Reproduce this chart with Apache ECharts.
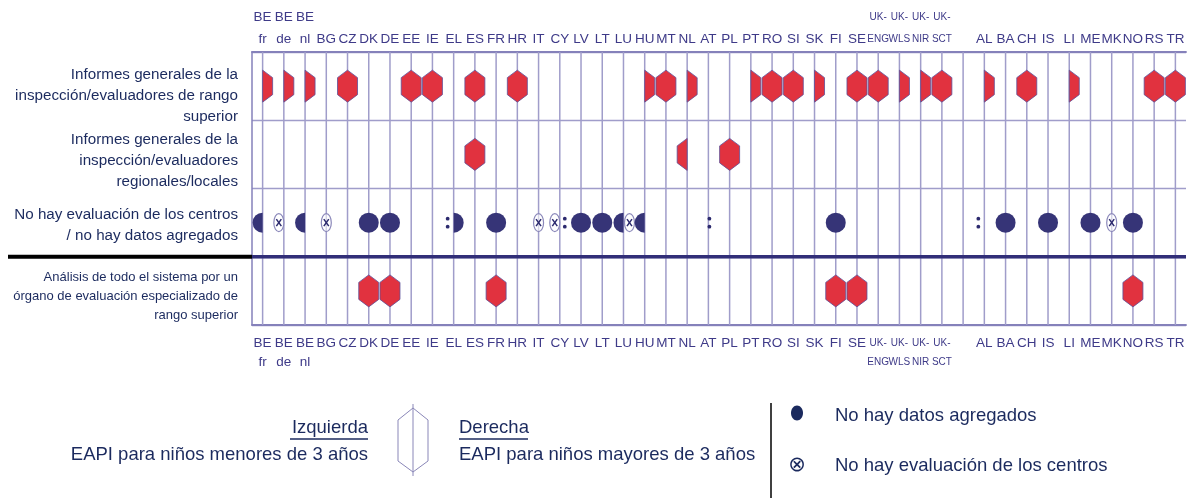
<!DOCTYPE html>
<html>
<head>
<meta charset="utf-8">
<script src="https://cdn.jsdelivr.net/npm/echarts@6/dist/echarts.min.js"></script>
<style>html,body{margin:0;padding:0;background:#fff;}#c{width:1192px;height:498px;}</style>
</head>
<body>
<div id="c"></div>
<script>
// ---- data ----
const categories = ['BE\nfr','BE\nde','BE\nnl','BG','CZ','DK','DE','EE','IE','EL','ES','FR','HR','IT','CY','LV','LT','LU','HU','MT','NL','AT','PL','PT','RO','SI','SK','FI','SE','UK-\nENG','UK-\nWLS','UK-\nNIR','UK-\nSCT',' ','AL','BA','CH','IS','LI','ME','MK','NO','RS','TR'];
const rowNames = [
  'Informes generales de la\ninspección/evaluadores de rango\nsuperior',
  'Informes generales de la\ninspección/evaluadores\nregionales/locales',
  'No hay evaluación de los centros\n/ no hay datos agregados',
  'Análisis de todo el sistema por un\nórgano de evaluación especializado de\nrango superior'
];
// codes: left char = EAPI < 3 años, right char = EAPI > 3 años
// H hexágono, D no hay datos agregados, X no hay evaluación, : no disponible, - nada
const rowTopLevel = ['-H','-H','-H','','HH','','','HH','HH','','HH','','HH','','','','','','-H','HH','-H','','','-H','HH','HH','-H','','HH','HH','-H','-H','HH','','-H','','HH','','-H','','','','HH','HH'];
const rowRegional = ['','','','','','','','','','','HH','','','','','','','','','','H-','','HH','','','','','','','','','','','','','','','','','','','','',''];
const rowNoEval   = ['D-','X-','D-','XX','','DD','DD','','',':D','','DD','','XX','X:','DD','DD','DX','D-','','','::','','','','','','DD','','','','','','',':-','DD','','DD','','DD','XX','DD','',''];
const rowSystem   = ['','','','','','HH','HH','','','','','HH','','','','','','','','','','','','','','','','HH','HH','','','','','','','','','','','','','HH','',''];
const rows = [rowTopLevel, rowRegional, rowNoEval, rowSystem];
const legendLeftTitle = 'Izquierda', legendLeftText = 'EAPI para niños menores de 3 años';
const legendRightTitle = 'Derecha', legendRightText = 'EAPI para niños mayores de 3 años';
const legendDot = 'No hay datos agregados', legendX = 'No hay evaluación de los centros';

// ---- styles ----
const REG = "'Liberation Sans',Arial,sans-serif";
const RED = '#e1323f', RED_EDGE = '#5d5199', DOT = '#363477', DARK = '#2c2a6e';
const LABEL_C = '#3e3a88', TEXT_C = '#1b2a5e', GRID_C = '#a09dca';
const HEX_W = 20, HEX_H = 32, HEX_K = 7.5, DOT_R = 10;

const items = [];
rows.forEach((r, yi) => r.forEach((code, xi) => { if (code) items.push({ value: [xi, yi], code }); }));

function hexPoints(cx, cy, part) {
  const top = [cx, cy - HEX_H / 2], tr = [cx + HEX_W / 2, cy - HEX_H / 2 + HEX_K], br = [cx + HEX_W / 2, cy + HEX_H / 2 - HEX_K];
  const bot = [cx, cy + HEX_H / 2], bl = [cx - HEX_W / 2, cy + HEX_H / 2 - HEX_K], tl = [cx - HEX_W / 2, cy - HEX_H / 2 + HEX_K];
  if (part === 'full') return [top, tr, br, bot, bl, tl];
  if (part === 'right') return [top, tr, br, bot];
  return [top, bot, bl, tl];
}
function crossCircle(x, cy) {
  return [
    { type: 'ellipse', shape: { cx: x, cy: cy, rx: 5, ry: 9 }, style: { fill: 'rgba(255,255,255,0.55)', stroke: '#8b88ba', lineWidth: 1.2 } },
    { type: 'line', shape: { x1: x - 2.5, y1: cy - 3.5, x2: x + 2.5, y2: cy + 3.5 }, style: { stroke: DARK, lineWidth: 1.5 } },
    { type: 'line', shape: { x1: x + 2.5, y1: cy - 3.5, x2: x - 2.5, y2: cy + 3.5 }, style: { stroke: DARK, lineWidth: 1.5 } }
  ];
}
function colon(x, cy) {
  return [
    { type: 'circle', shape: { cx: x, cy: cy - 4, r: 1.9 }, style: { fill: DARK } },
    { type: 'circle', shape: { cx: x, cy: cy + 4, r: 1.9 }, style: { fill: DARK } }
  ];
}
function renderMarker(params, api) {
  const code = items[params.dataIndex].code;
  const p = api.coord([api.value(0), api.value(1)]);
  const cx = p[0], cy = p[1];
  const L = code[0], R = code[1];
  const ch = [];
  const hexStyle = { fill: RED, stroke: RED_EDGE, lineWidth: 0.8 };
  if (L === 'H' || R === 'H') {
    const part = (L === 'H' && R === 'H') ? 'full' : (R === 'H' ? 'right' : 'left');
    ch.push({ type: 'polygon', shape: { points: hexPoints(cx, cy, part) }, style: hexStyle });
  }
  if (L === 'D' && R === 'D') ch.push({ type: 'circle', shape: { cx, cy, r: DOT_R }, style: { fill: DOT } });
  else {
    if (L === 'D') ch.push({ type: 'sector', shape: { cx, cy, r0: 0, r: DOT_R, startAngle: Math.PI / 2, endAngle: Math.PI * 1.5, clockwise: true }, style: { fill: DOT } });
    if (R === 'D') ch.push({ type: 'sector', shape: { cx, cy, r0: 0, r: DOT_R, startAngle: -Math.PI / 2, endAngle: Math.PI / 2, clockwise: true }, style: { fill: DOT } });
  }
  if (L === 'X' && R === 'X') ch.push(...crossCircle(cx, cy));
  else {
    if (L === 'X') ch.push(...crossCircle(cx - 5, cy));
    if (R === 'X') ch.push(...crossCircle(cx + 6, cy));
  }
  if (L === ':' && R === ':') ch.push(...colon(cx + 1, cy));
  else {
    if (L === ':') ch.push(...colon(cx - 6, cy));
    if (R === ':') ch.push(...colon(cx + 5, cy));
  }
  return { type: 'group', children: ch };
}
function renderColumnLine(params, api) {
  const x = api.coord([api.value(0), 0])[0];
  const cs = params.coordSys;
  return { type: 'line', shape: { x1: x, y1: cs.y, x2: x, y2: cs.y + cs.height }, style: { stroke: GRID_C, lineWidth: 1.5 } };
}
function renderDivider(params, api) {
  const y = api.coord([0, api.value(1)])[1] + api.size([0, 1])[1] / 2;
  const cs = params.coordSys;
  return { type: 'group', children: [
    { type: 'line', shape: { x1: cs.x, y1: y, x2: cs.x + cs.width, y2: y }, style: { stroke: '#312e78', lineWidth: 3.5 } },
    { type: 'line', shape: { x1: 8, y1: y, x2: cs.x, y2: y }, style: { stroke: '#000', lineWidth: 4 } }
  ] };
}

function topFmt(v) {
  if (v.indexOf('UK-') === 0) { const s = v.split('\n'); return '{s|' + s[0] + '}\n{s|' + s[1] + '}'; }
  return v;
}
const shifts = ['{g20| }\n', '{g12| }\n', '{g6| }\n', '{g12| }\n'];
function yFmt(v, i) {
  let body = v;
  if (i === 3) body = v.split('\n').map(l => '{sm|' + l + '}').join('\n');
  return shifts[i] + body;
}
const labelBase = { interval: 0, fontFamily: REG, fontSize: 13.5, color: LABEL_C };

const option = {
  backgroundColor: '#fff',
  animation: false,
  grid: { left: 252, right: 6, top: 52, bottom: 173, containLabel: false, outerBoundsMode: 'none' },
  xAxis: [
    { type: 'category', data: categories, position: 'top', boundaryGap: true,
      axisLine: { show: true, lineStyle: { color: '#8581ba', width: 1.8 } }, axisTick: { show: false }, splitLine: { show: false },
      axisLabel: Object.assign({}, labelBase, { margin: 2, lineHeight: 22, formatter: topFmt, rich: { s: { fontFamily: REG, fontSize: 10, lineHeight: 22, color: LABEL_C } } }) },
    { type: 'category', data: categories, position: 'bottom', boundaryGap: true,
      axisLine: { show: true, lineStyle: { color: '#8581ba', width: 1.8 } }, axisTick: { show: false }, splitLine: { show: false },
      axisLabel: Object.assign({}, labelBase, { margin: 9, lineHeight: 19, formatter: topFmt, rich: { s: { fontFamily: REG, fontSize: 10, lineHeight: 19, color: LABEL_C } } }) }
  ],
  yAxis: { type: 'category', data: rowNames, inverse: true, boundaryGap: true,
    axisLine: { show: true, lineStyle: { color: '#8581ba', width: 1.5 } }, axisTick: { show: false },
    splitLine: { show: true, lineStyle: { color: GRID_C, width: 1.3 } },
    axisLabel: { interval: 0, margin: 14, fontFamily: REG, fontSize: 15.2, lineHeight: 21, color: TEXT_C, align: 'right', formatter: yFmt,
      rich: { g20: { fontSize: 1, lineHeight: 20 }, g12: { fontSize: 1, lineHeight: 12 }, g6: { fontSize: 1, lineHeight: 6 },
              sm: { fontFamily: REG, fontSize: 13, lineHeight: 19, color: TEXT_C } } } },
  series: [
    { type: 'custom', name: 'columns', xAxisIndex: 0, silent: true, z: 1, renderItem: renderColumnLine, data: categories.map((c, i) => [i, 0]) },
    { type: 'custom', name: 'divider', xAxisIndex: 0, silent: true, z: 3, renderItem: renderDivider, data: [[0, 2]] },
    { type: 'custom', name: 'marks', xAxisIndex: 0, z: 5, renderItem: renderMarker, data: items.map(d => d.value) }
  ],
  graphic: [
    { type: 'text', x: 368, y: 428, style: { text: legendLeftTitle, align: 'right', verticalAlign: 'middle', font: '18.5px ' + REG, fill: TEXT_C } },
    { type: 'line', shape: { x1: 290, y1: 439, x2: 368, y2: 439 }, style: { stroke: TEXT_C, lineWidth: 1.5 } },
    { type: 'text', x: 368, y: 455, style: { text: legendLeftText, align: 'right', verticalAlign: 'middle', font: '18.5px ' + REG, fill: TEXT_C } },
    { type: 'polygon', shape: { points: [[413, 408], [428, 420], [428, 461], [413, 472], [398, 461], [398, 420]] }, style: { fill: 'none', stroke: '#8a87b8', lineWidth: 1 } },
    { type: 'line', shape: { x1: 413, y1: 404, x2: 413, y2: 476 }, style: { stroke: '#8a87b8', lineWidth: 1 } },
    { type: 'text', x: 459, y: 428, style: { text: legendRightTitle, align: 'left', verticalAlign: 'middle', font: '18.5px ' + REG, fill: TEXT_C } },
    { type: 'line', shape: { x1: 459, y1: 439, x2: 528, y2: 439 }, style: { stroke: TEXT_C, lineWidth: 1.5 } },
    { type: 'text', x: 459, y: 455, style: { text: legendRightText, align: 'left', verticalAlign: 'middle', font: '18.5px ' + REG, fill: TEXT_C } },
    { type: 'line', shape: { x1: 771, y1: 403, x2: 771, y2: 498 }, style: { stroke: '#000', lineWidth: 1.5 } },
    { type: 'ellipse', shape: { cx: 797, cy: 413, rx: 6, ry: 7.5 }, style: { fill: TEXT_C } },
    { type: 'text', x: 835, y: 416, style: { text: legendDot, align: 'left', verticalAlign: 'middle', font: '18.5px ' + REG, fill: TEXT_C } },
    { type: 'text', x: 797, y: 466, style: { text: '⊗', align: 'center', verticalAlign: 'middle', font: '21px DejaVu Sans', fill: TEXT_C } },
    { type: 'text', x: 835, y: 466, style: { text: legendX, align: 'left', verticalAlign: 'middle', font: '18.5px ' + REG, fill: TEXT_C } }
  ]
};
const chart = echarts.init(document.getElementById('c'), null, { renderer: 'canvas' });
chart.setOption(option);
</script>
</body>
</html>
